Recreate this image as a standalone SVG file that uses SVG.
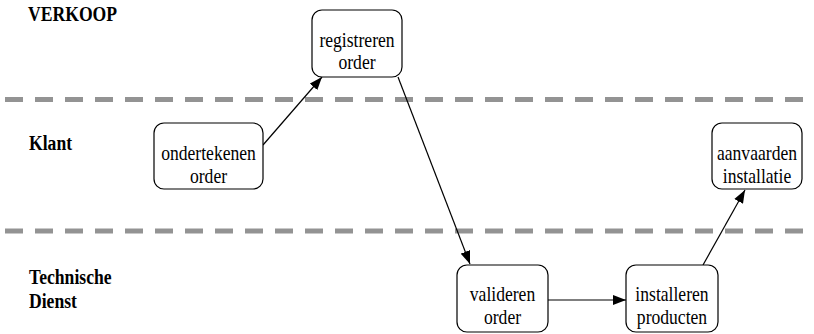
<svg xmlns="http://www.w3.org/2000/svg" width="814" height="334" viewBox="0 0 814 334">
  <defs>
    <marker id="arrow" viewBox="0 0 13 10" refX="13" refY="5" markerWidth="13" markerHeight="10" markerUnits="userSpaceOnUse" orient="auto">
      <path d="M0,0 L13,5 L0,10 Z" fill="#000"/>
    </marker>
    <style>
      .lane { stroke: #939393; stroke-width: 5; stroke-dasharray: 18 12; fill: none; }
      .box { fill: #fff; stroke: #000; stroke-width: 1.2; }
      .txt { font-size: 20px; fill: #000; text-anchor: middle; }
      .lbl { font-size: 20.5px; font-weight: bold; fill: #000; }
      .edge { stroke: #000; stroke-width: 1.2; fill: none; marker-end: url(#arrow); }
    </style>
  </defs>
  <rect width="814" height="334" fill="#fff"/>

  <!-- swimlane separators -->
  <g id="lanes">
    <line class="lane" x1="5" y1="99.5" x2="814" y2="99.5"/>
    <line class="lane" x1="5" y1="231" x2="814" y2="231"/>
  </g>

  <!-- all text uses a Times-metric serif face, narrowed horizontally -->
  <g font-family="'Liberation Serif', 'Times New Roman', 'DejaVu Serif', serif">
    <!-- lane titles -->
    <g id="lane-labels">
      <text class="lbl" transform="translate(28 21) scale(0.86 1)">VERKOOP</text>
      <text class="lbl" transform="translate(29 150) scale(0.86 1)">Klant</text>
      <text class="lbl" transform="translate(29 284) scale(0.86 1)">Technische</text>
      <text class="lbl" transform="translate(29 308) scale(0.86 1)">Dienst</text>
    </g>

    <!-- connectors -->
    <g id="connectors">
      <line class="edge" x1="263" y1="145" x2="322" y2="77"/>
      <line class="edge" x1="398" y1="77" x2="470" y2="264"/>
      <line class="edge" x1="548" y1="300" x2="626" y2="300"/>
      <line class="edge" x1="703" y1="265" x2="745" y2="190"/>
    </g>

    <g id="registreren-order">
      <rect class="box" x="312" y="10" width="90" height="67" rx="10"/>
      <text class="txt" transform="translate(357 47) scale(0.88 1)">registreren</text>
      <text class="txt" transform="translate(357 69) scale(0.88 1)">order</text>
    </g>

    <g id="ondertekenen-order">
      <rect class="box" x="154" y="123" width="109" height="66" rx="10"/>
      <text class="txt" transform="translate(208.5 160) scale(0.88 1)">ondertekenen</text>
      <text class="txt" transform="translate(208.5 183) scale(0.88 1)">order</text>
    </g>

    <g id="aanvaarden-installatie">
      <rect class="box" x="712" y="123" width="90" height="66" rx="10"/>
      <text class="txt" transform="translate(757 160) scale(0.88 1)">aanvaarden</text>
      <text class="txt" transform="translate(757 183) scale(0.88 1)">installatie</text>
    </g>

    <g id="valideren-order">
      <rect class="box" x="457" y="265" width="91" height="67" rx="10"/>
      <text class="txt" transform="translate(502.5 301) scale(0.88 1)">valideren</text>
      <text class="txt" transform="translate(502.5 324) scale(0.88 1)">order</text>
    </g>

    <g id="installeren-producten">
      <rect class="box" x="626" y="265" width="92" height="67" rx="10"/>
      <text class="txt" transform="translate(672 301) scale(0.88 1)">installeren</text>
      <text class="txt" transform="translate(672 324) scale(0.88 1)">producten</text>
    </g>
  </g>
</svg>
